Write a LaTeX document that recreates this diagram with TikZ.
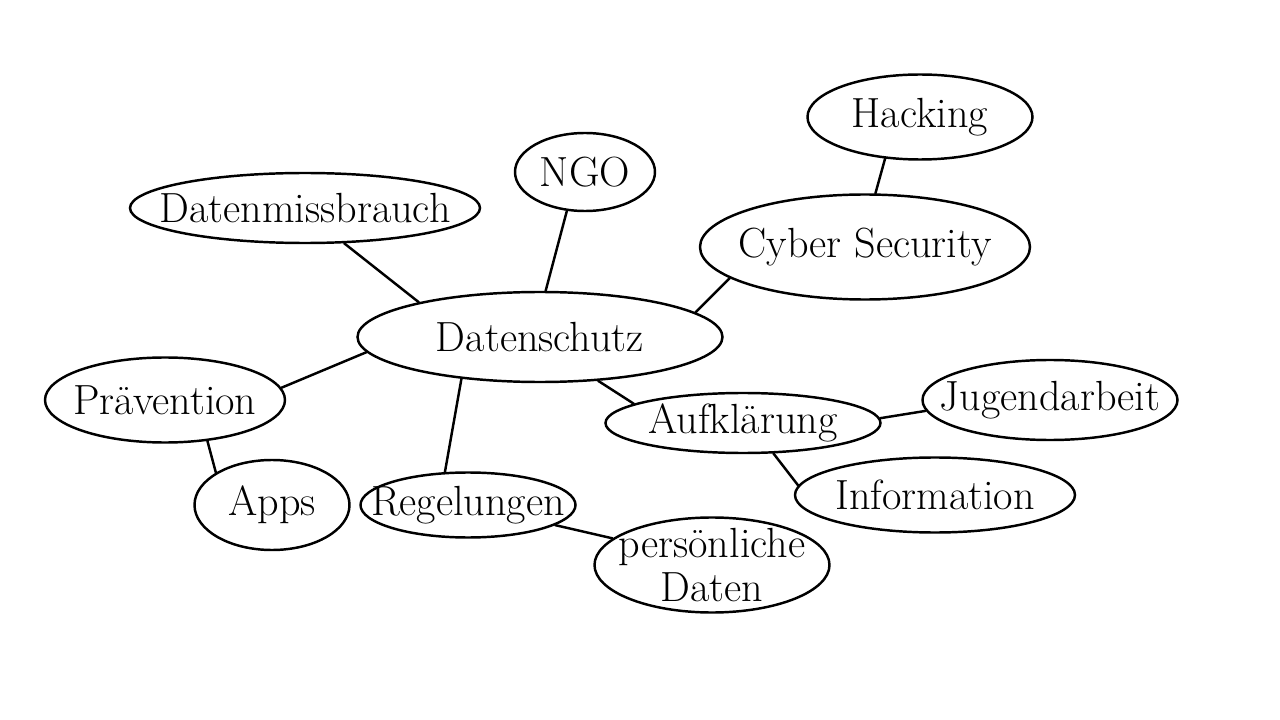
\documentclass[tikz,border=0pt]{standalone}
\usetikzlibrary{shapes.geometric}

\begin{document}
\begin{tikzpicture}[x=0.2mm,y=-0.2mm,line width=1.4pt,
    blob/.style={draw,ellipse,inner sep=0pt},
    word/.style={font=\fontsize{24}{25}\selectfont,align=center},
    branch/.style={line cap=round}]
	\useasboundingbox (0,0) rectangle (1280,720);

	% centre
	\node[blob,minimum width=73mm,minimum height=18mm,label={[word]center:Datenschutz}] (schutz) at (540,337) {};

	% upper branches
	\node[blob,minimum width=28mm,minimum height=15.6mm,label={[word]center:NGO}] (ngo) at (585,172) {};
	\node[blob,minimum width=70mm,minimum height=14mm,label={[word]center:Datenmissbrauch}] (missbrauch) at (305,208) {};
	\node[blob,minimum width=66mm,minimum height=21mm,label={[word]center:Cyber Security}] (cyber) at (865,247) {};
	\node[blob,minimum width=45mm,minimum height=17mm,label={[word]center:Hacking}] (hacking) at (920,117) {};

	% left branches
	\node[blob,minimum width=48mm,minimum height=17mm,label={[word]center:Prävention}] (praev) at (165,400) {};
	\node[blob,minimum width=31mm,minimum height=18mm,label={[word]center:Apps}] (apps) at (272,505) {};

	% lower branches
	\node[blob,minimum width=43mm,minimum height=13mm,label={[word]center:Regelungen}] (regeln) at (468,505) {};
	\node[blob,minimum width=47mm,minimum height=19mm,label={[word]center:persönliche\\Daten}] (pdaten) at (712,565) {};

	% right branches
	\node[blob,minimum width=55mm,minimum height=12mm,label={[word]center:Aufklärung}] (aufkl) at (743,423) {};
	\node[blob,minimum width=51mm,minimum height=16mm,label={[word]center:Jugendarbeit}] (jugend) at (1050,400) {};
	\node[blob,minimum width=56mm,minimum height=15mm,label={[word]center:Information}] (info) at (935,495) {};

	\draw[branch] (missbrauch.318) -- (schutz.164);
	\draw[branch] (ngo.245) -- (schutz.83);
	\draw[branch] (hacking.230) -- (cyber.79);
	\draw[branch] (cyber.193) -- (schutz.9);
	\draw[branch] (praev.6) -- (schutz.185);
	\draw[branch] (praev.316) -- (apps.150);
	\draw[branch] (schutz.208) -- (regeln.125);
	\draw[branch] (schutz.323) -- (aufkl.170);
	\draw[branch] (aufkl.2) -- (jugend.185);
	\draw[branch] (aufkl.315) -- (info.176);
	\draw[branch] (regeln.347) -- (pdaten.165);
\end{tikzpicture}
\end{document}
